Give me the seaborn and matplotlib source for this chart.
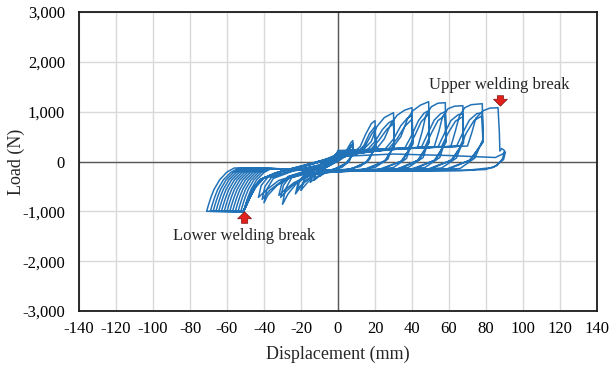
import matplotlib
matplotlib.use("Agg")
import matplotlib.pyplot as plt
from matplotlib.ticker import FuncFormatter
import seaborn as sns
import pandas as pd

# ---------------- data: hysteresis path vertices (displacement mm, load N) ----------------
cyc_8mm = [(0, 0), (3, 100), (5, 250), (7, 380), (8, 420), (8.4, 200), (6, 0), (2, -120), (-3, -160), (-7, -220),
           (-10, -300), (-9, -190), (-6, -110), (-2, -30),
           (2, 60), (5, 200), (7, 320), (8, 360), (8.4, 170), (5, -20), (0, -140), (-6, -210), (-10, -290),
           (-13, -380), (-12, -240), (-8, -150), (-3, -50),
           (3, 80), (6, 240), (8, 320), (8.4, 150), (4, -40), (-2, -150), (-8, -230), (-12, -320), (-15, -420),
           (-14, -290), (-10, -170), (-4, -60)]

cyc_20mm = [(0, 40), (8, 160), (12, 300), (15, 550), (18, 760), (20, 820), (20.4, 350), (17, 40), (12, -100),
            (4, -170), (-6, -190), (-12, -260), (-16, -400), (-19, -530), (-20, -580), (-18.5, -380), (-15, -230),
            (-8, -110),
            (0, 50), (10, 170), (14, 320), (17, 560), (20, 700), (20.4, 300), (16, 0), (8, -140), (-4, -190),
            (-12, -250), (-18, -400), (-22, -560), (-20.5, -360), (-16, -220), (-8, -100),
            (0, 60), (11, 180), (15, 330), (18, 540), (20, 640), (20.4, 280), (15, -30), (6, -160), (-6, -200),
            (-14, -280), (-19, -450), (-23, -650), (-21.5, -420), (-17, -240), (-8, -100)]

cyc_30mm = [(0, 70), (12, 180), (18, 400), (21, 700), (25, 880), (30, 980), (30.4, 380), (27, 50), (20, -120),
            (10, -180), (-5, -200), (-15, -260), (-22, -420), (-27, -650), (-30, -860), (-28.5, -560), (-25, -320),
            (-15, -170),
            (0, 80), (15, 200), (20, 400), (24, 640), (27.5, 780), (30, 830), (30.4, 330), (26, 30), (16, -150),
            (0, -190), (-14, -260), (-23, -430), (-28, -600), (-31, -720), (-29.5, -480), (-26, -300), (-14, -160),
            (0, 90), (17, 210), (22, 420), (26.5, 650), (30, 760), (30.4, 300), (25, 0), (14, -160), (0, -200),
            (-15, -260), (-24, -430), (-29, -580), (-32, -680), (-30.5, -460), (-27, -300), (-14, -150)]

cyc_40mm = [(0, 100), (20, 220), (25, 450), (28.5, 750), (32, 930), (36, 1030), (40, 1080), (40.4, 420), (37, 60),
            (30, -120), (18, -180), (0, -200), (-15, -230), (-26, -330), (-33, -480), (-38, -680), (-40, -830),
            (-38.5, -560), (-35, -340), (-25, -200), (-12, -100),
            (0, 110), (25, 230), (30, 450), (34, 720), (37.5, 870), (40, 920), (40.4, 370), (35, 20), (24, -150),
            (5, -200), (-18, -240), (-30, -380), (-37, -580), (-41, -760), (-39.5, -500), (-36, -320), (-24, -180),
            (-10, -80),
            (0, 120), (27, 240), (32, 460), (36, 700), (40, 850), (40.4, 340), (34, 0), (22, -160), (2, -200),
            (-20, -240), (-32, -380), (-39, -580), (-43, -720), (-41.5, -480), (-38, -320), (-25, -180), (-10, -70)]

cyc_49mm = [(0, 130), (29, 250), (34, 500), (37.5, 850), (40.5, 1020), (44.5, 1130), (49, 1200), (49.3, 450),
            (46, 80), (38, -120), (24, -180), (0, -190), (-20, -170), (-36, -140), (-40, -220), (-44, -370),
            (-47, -560), (-48.5, -700), (-50, -870), (-51, -1000), (-49, -780), (-46, -540), (-42, -360),
            (-34, -230), (-22, -110), (-8, 30),
            (0, 140), (36, 260), (39.5, 500), (43.5, 820), (46.5, 970), (49, 1020), (49.3, 400), (44, 40),
            (34, -140), (16, -190), (-5, -190), (-22, -160), (-37.5, -140), (-41.5, -220), (-45.5, -370),
            (-48.5, -560), (-50, -700), (-51.5, -870), (-52.5, -1000), (-51, -1000), (-49, -780), (-46, -540),
            (-42, -360), (-33, -220), (-20, -100), (-6, 40),
            (0, 150), (38, 270), (41.5, 520), (45, 800), (49, 950), (49.3, 380), (43, 20), (32, -150), (12, -190),
            (-8, -180), (-24, -150), (-39, -140), (-43, -220), (-47, -370), (-50, -560), (-51.5, -700), (-53, -870),
            (-54, -1000), (-51, -1000), (-48.5, -760), (-45.5, -520), (-41.5, -350), (-32, -210), (-18, -90),
            (-5, 50)]

cyc_58mm = [(0, 160), (20, 230), (43, 280), (45.5, 600), (47.5, 930), (50.5, 1100), (54, 1170), (58, 1180),
            (58.3, 450), (55, 80), (47, -120), (32, -180), (10, -190), (-12, -170), (-30, -150), (-40.5, -140),
            (-44.5, -220), (-48.5, -370), (-51.5, -560), (-53, -700), (-54.5, -870), (-55.5, -1000), (-51, -1000),
            (-48.5, -770), (-45.5, -530), (-41, -350), (-32, -210), (-18, -80), (-4, 60),
            (0, 170), (45, 280), (48.5, 560), (52, 830), (55.5, 960), (58, 1000), (58.3, 400), (53, 40),
            (42, -140), (22, -190), (0, -185), (-18, -160), (-42, -140), (-46, -220), (-50, -370), (-53, -560),
            (-54.5, -700), (-56, -870), (-57, -1000), (-51, -1000), (-48.5, -760), (-45, -520), (-40.5, -340),
            (-31, -200), (-16, -70), (-3, 70),
            (0, 180), (47, 290), (50.5, 570), (54, 820), (58, 930), (58.3, 380), (52, 20), (40, -150),
            (18, -190), (-4, -180), (-22, -150), (-43.5, -140), (-47.5, -220), (-51.5, -370), (-54.5, -560),
            (-56, -700), (-57.5, -870), (-58.5, -1000), (-51, -1000), (-48, -750), (-44.5, -510), (-40, -330),
            (-30, -190), (-15, -60), (-2, 80)]

cyc_67mm = [(0, 180), (25, 240), (52, 290), (54.5, 600), (56.5, 900), (59.5, 1060), (63, 1110), (67.5, 1120),
            (67.8, 430), (64, 70), (56, -130), (40, -180), (15, -190), (-10, -170), (-30, -150), (-45, -140),
            (-49, -220), (-53, -370), (-56, -560), (-57.5, -700), (-59, -870), (-60, -1000), (-51, -1000),
            (-48.5, -770), (-45.5, -530), (-41, -350), (-31, -200), (-17, -70), (-3, 80),
            (0, 190), (54, 290), (57.5, 560), (61, 820), (65, 940), (67.5, 960), (67.8, 390), (62, 40),
            (50, -150), (28, -190), (4, -185), (-20, -160), (-46.5, -140), (-50.5, -220), (-54.5, -370),
            (-57.5, -560), (-59, -700), (-60.5, -870), (-61.5, -1000), (-51, -1000), (-48, -760), (-45, -520),
            (-40.5, -340), (-30, -190), (-15, -60), (-2, 90),
            (0, 200), (56, 300), (59.5, 570), (63.5, 810), (67.5, 900), (67.8, 370), (61, 20), (48, -160),
            (25, -195), (0, -180), (-25, -150), (-48, -140), (-52, -220), (-56, -370), (-59, -560), (-60.5, -700),
            (-62, -870), (-63, -1000), (-51, -1000), (-48, -750), (-44.5, -510), (-40, -330), (-29, -180),
            (-14, -50), (-1, 100)]

cyc_78mm = [(0, 200), (30, 250), (61, 300), (63.5, 620), (65.5, 900), (68.5, 1080), (72, 1140), (78, 1160),
            (78.3, 440), (74, 70), (66, -140), (48, -180), (20, -190), (-8, -170), (-30, -150), (-49.5, -140),
            (-53.5, -220), (-57.5, -370), (-60.5, -560), (-62, -700), (-63.5, -870), (-64.5, -1000), (-51, -1000),
            (-48.5, -770), (-45.5, -530), (-41, -350), (-31, -200), (-16, -60), (-2, 90),
            (0, 210), (64, 300), (67.5, 580), (71, 830), (75, 960), (78, 980), (78.3, 400), (72, 40),
            (60, -150), (36, -190), (8, -185), (-18, -160), (-51, -140), (-55, -220), (-59, -370), (-62, -560),
            (-63.5, -700), (-65, -870), (-66, -1000), (-51, -1000), (-48, -760), (-45, -520), (-40.5, -340),
            (-30, -190), (-14, -50), (-1, 100),
            (0, 220), (66, 310), (69.5, 580), (73.5, 820), (78, 920), (78.3, 380), (71, 20), (58, -160),
            (32, -195), (4, -180), (-22, -150), (-52.5, -140), (-56.5, -220), (-60.5, -370), (-63.5, -560),
            (-65, -700), (-66.5, -870), (-67.5, -1000), (-51, -1000), (-48, -750), (-44.5, -510), (-40, -330),
            (-29, -180), (-13, -40), (0, 110)]

cyc_87mm = [(30, 260), (70, 310), (72.5, 600), (74.5, 870), (78.5, 1020), (82, 1070), (86.5, 1080), (87.2, 600),
            (87.5, 210), (88.5, 260), (90, 220), (89, 60), (86, -80), (80, -160), (66, -185), (45, -190),
            (18, -190), (-8, -170), (-30, -150), (-54, -140), (-58, -220), (-62, -370), (-65, -560), (-66.5, -700),
            (-68, -870), (-69, -1000), (-51, -1000), (-48.5, -770), (-45.5, -530), (-41, -350), (-31, -200),
            (-15, -60), (0, 100), (30, 150), (60, 120), (85, 80), (89, 150), (90.5, 190), (89.5, 40), (84, -120),
            (70, -175), (40, -185), (10, -185), (-15, -165), (-35, -150), (-56, -130), (-60, -210), (-64, -370),
            (-67, -560), (-68.5, -700), (-70, -870), (-71, -1000), (-51, -1000), (-48.5, -770), (-45, -520),
            (-40, -330), (-30, -190)]

x_ticks = list(range(-140, 141, 20))
y_ticks = list(range(-3000, 3001, 1000))

upper_label = "Upper welding break"
upper_tip = (87.8, 1110)
upper_tail = (87.8, 1320)
upper_text_pos = (87.0, 1540)
lower_label = "Lower welding break"
lower_tip = (-50.5, -1010)
lower_tail = (-50.5, -1240)
lower_text_pos = (-50.5, -1500)

# ---------------- plotting ----------------
sns.set_style("white")
plt.rcParams["font.family"] = ["Liberation Serif", "DejaVu Serif"]

path = cyc_8mm + cyc_20mm + cyc_30mm + cyc_40mm + cyc_49mm + cyc_58mm + cyc_67mm + cyc_78mm + cyc_87mm
df = pd.DataFrame(path, columns=["Displacement", "Load"])

fig = plt.figure(figsize=(6.12, 3.67), dpi=100)
ax = fig.add_axes([79 / 612, 1 - 311 / 367, (597 - 79) / 612, (311 - 12) / 367])

ax.set_xlim(-140, 140)
ax.set_ylim(-3000, 3000)
ax.set_xticks(x_ticks)
ax.set_yticks(y_ticks)
ax.grid(True, color="#d9d9d9", lw=1.0)
ax.set_axisbelow(True)
ax.axhline(0, color="#595959", lw=1.0, zorder=1)
ax.axvline(0, color="#595959", lw=1.0, zorder=1)

sns.lineplot(data=df, x="Displacement", y="Load", sort=False, estimator=None,
             color="#2272b8", lw=1.1, ax=ax, zorder=3)

for s in ax.spines.values():
    s.set_color("#1a1a1a")
    s.set_linewidth(1.3)

ax.tick_params(axis="both", length=0, labelsize=12, colors="black")
ax.tick_params(axis="x", pad=7)
ax.tick_params(axis="y", pad=10)
ax.xaxis.set_major_formatter(FuncFormatter(lambda v, p: f"{v:.0f}"))
ax.yaxis.set_major_formatter(FuncFormatter(lambda v, p: f"{v:,.0f}"))

ax.set_xlabel("Displacement (mm)", fontsize=13)
ax.set_ylabel("Load (N)", fontsize=13)
ax.xaxis.set_label_coords(0.5, -0.115)
ax.yaxis.set_label_coords(-0.104, 0.5)

arrow_props = dict(arrowstyle="simple,head_width=1.0,head_length=0.5,tail_width=0.45",
                   fc="#e3211c", ec="#7a1010", lw=0.5, mutation_scale=10, shrinkA=0, shrinkB=0)
ax.annotate("", xy=upper_tip, xytext=upper_tail, arrowprops=arrow_props, zorder=5)
ax.annotate("", xy=lower_tip, xytext=lower_tail, arrowprops=arrow_props, zorder=5)
ax.text(*upper_text_pos, upper_label, fontsize=12, ha="center", va="center", zorder=5)
ax.text(*lower_text_pos, lower_label, fontsize=12, ha="center", va="center", zorder=5)

fig.savefig("out.png", dpi=100)
